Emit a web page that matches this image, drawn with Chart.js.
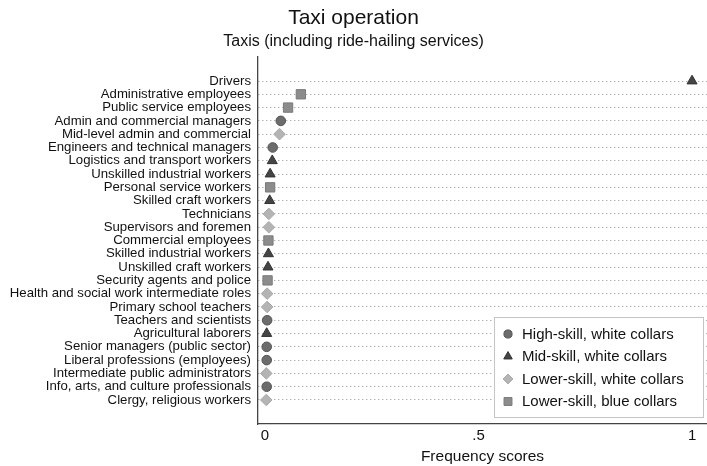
<!DOCTYPE html>
<html>
<head>
<meta charset="utf-8">
<script src="https://cdn.jsdelivr.net/npm/chart.js@4/dist/chart.umd.min.js"></script>
<style>
  html, body { margin: 0; padding: 0; background: #fff; overflow: hidden; }
  #wrap { width: 707px; height: 466px; position: relative; }
  canvas { display: block; }
</style>
</head>
<body>
<div id="wrap"><canvas id="chart"></canvas></div>
<script>
// ==== DỮ LIỆU ====
const categories = [
    "Drivers",
    "Administrative employees",
    "Public service employees",
    "Admin and commercial managers",
    "Mid-level admin and commercial",
    "Engineers and technical managers",
    "Logistics and transport workers",
    "Unskilled industrial workers",
    "Personal service workers",
    "Skilled craft workers",
    "Technicians",
    "Supervisors and foremen",
    "Commercial employees",
    "Skilled industrial workers",
    "Unskilled craft workers",
    "Security agents and police",
    "Health and social work intermediate roles",
    "Primary school teachers",
    "Teachers and scientists",
    "Agricultural laborers",
    "Senior managers (public sector)",
    "Liberal professions (employees)",
    "Intermediate public administrators",
    "Info, arts, and culture professionals",
    "Clergy, religious workers",
];

const scores = [
    1.0, 0.084, 0.054, 0.037, 0.034, 0.018, 0.017, 0.012, 0.012, 0.011,
    0.009, 0.009, 0.008, 0.008, 0.007, 0.006, 0.005, 0.005, 0.005, 0.004,
    0.004, 0.004, 0.003, 0.004, 0.003,
];

// 0 = high-skill white, 1 = mid-skill white, 2 = lower-skill white, 3 = lower-skill blue
const groups = [
    1, 3, 3, 0, 2, 0, 1, 1, 3, 1,
    2, 2, 3, 1, 1, 3, 2, 2, 0, 1,
    0, 0, 2, 0, 2,
];

const groupLabels = [
    "High-skill, white collars",
    "Mid-skill, white collars",
    "Lower-skill, white collars",
    "Lower-skill, blue collars",
];

const xTicks = [0, 0.5, 1];
const xTickLabels = ["0", ".5", "1"];

// ==== KIỂU ĐIỂM ====
const groupStyles = [
    { pointStyle: "circle", radius: 4.8, fill: "#6c6c6c", border: "#555555" },
    { pointStyle: "triangle", radius: 5.8, fill: "#454545", border: "#333333" },
    { pointStyle: "rectRot", radius: 5.8, fill: "#b4b4b4", border: "#a8a8a8" },
    { pointStyle: "rect", radius: 6.6, fill: "#8c8c8c", border: "#7a7a7a" },
];

const FONT = "'Liberation Sans', Arial, sans-serif";

const datasets = groupLabels.map((label, g) => ({
    label,
    data: categories
        .map((c, i) => ({ x: scores[i], y: i, g: groups[i] }))
        .filter((p) => p.g === g),
    pointStyle: groupStyles[g].pointStyle,
    pointRadius: groupStyles[g].radius,
    pointHoverRadius: groupStyles[g].radius,
    backgroundColor: groupStyles[g].fill,
    borderColor: groupStyles[g].border,
    pointBorderWidth: 1,
    showLine: false,
}));

// ==== CHÚ THÍCH TRONG VÙNG VẼ ====
const insideLegend = {
    id: "insideLegend",
    afterDraw(chart) {
        const ctx = chart.ctx;
        const box = { x: 494.5, y: 317.5, w: 209, h: 100 };
        ctx.save();
        ctx.fillStyle = "#ffffff";
        ctx.fillRect(box.x, box.y, box.w, box.h);
        ctx.strokeStyle = "#c4c4c4";
        ctx.lineWidth = 1;
        ctx.strokeRect(box.x, box.y, box.w, box.h);

        const rows = [334, 356.5, 379, 401.5];
        ctx.font = "15px " + FONT;
        ctx.textBaseline = "middle";
        ctx.textAlign = "left";
        groupLabels.forEach((label, g) => {
            const st = groupStyles[g];
            const opts = {
                pointStyle: st.pointStyle,
                radius: st.radius * 0.85,
                borderWidth: 1,
                rotation: 0,
            };
            ctx.fillStyle = st.fill;
            ctx.strokeStyle = st.border;
            Chart.helpers.drawPoint(ctx, opts, 508, rows[g]);
            ctx.fillStyle = "#111111";
            ctx.fillText(label, 522, rows[g] + 0.5);
        });
        ctx.restore();
    },
};

const ctx = document.getElementById("chart").getContext("2d");
new Chart(ctx, {
    type: "scatter",
    data: { datasets },
    plugins: [insideLegend],
    options: {
        responsive: true,
        maintainAspectRatio: false,
        animation: false,
        events: [],
        layout: { padding: 0, autoPadding: false },
        plugins: {
            legend: { display: false },
            tooltip: { enabled: false },
            title: {
                display: true,
                text: "Taxi operation",
                color: "#111111",
                font: { family: FONT, size: 21, weight: "normal" },
                padding: { top: 6, bottom: 0 },
            },
            subtitle: {
                display: true,
                text: "Taxis (including ride-hailing services)",
                color: "#111111",
                font: { family: FONT, size: 16, weight: "normal" },
                padding: { top: 0.5, bottom: 6.1 },
            },
        },
        scales: {
            x: {
                type: "linear",
                min: -0.0164,
                max: 1.035,
                afterBuildTicks: (scale) => {
                    scale.ticks = xTicks.map((v) => ({ value: v }));
                },
                afterFit: (scale) => {
                    scale.height = 42;
                    scale.paddingLeft = 0;
                    scale.paddingRight = 0;
                },
                ticks: {
                    color: "#111111",
                    font: { family: FONT, size: 15 },
                    padding: 3,
                    maxRotation: 0,
                    callback: (v) => xTickLabels[xTicks.indexOf(v)],
                },
                grid: { display: true, drawOnChartArea: false, drawTicks: false },
                border: { display: true, color: "#444444", width: 1.3 },
                title: {
                    display: true,
                    text: "Frequency scores",
                    color: "#111111",
                    font: { family: FONT, size: 15.5 },
                    padding: { top: 2.4, bottom: 0 },
                },
            },
            y: {
                type: "linear",
                reverse: true,
                min: -1.806,
                max: 25.806,
                afterBuildTicks: (scale) => {
                    scale.ticks = categories.map((c, i) => ({ value: i }));
                },
                afterFit: (scale) => {
                    scale.width = 258;
                    scale.paddingTop = 0;
                    scale.paddingBottom = 0;
                },
                ticks: {
                    color: "#111111",
                    font: { family: FONT, size: 13.2 },
                    padding: 7,
                    autoSkip: false,
                    callback: (v) => categories[v],
                },
                grid: {
                    display: true,
                    drawOnChartArea: true,
                    drawTicks: false,
                    color: "#8f8f8f",
                    lineWidth: 1,
                },
                // border.dash trong v4 áp dụng cho đường lưới -> chấm
                border: { display: true, color: "#444444", width: 1.3, dash: [1, 3] },
            },
        },
    },
});
</script>
</body>
</html>
